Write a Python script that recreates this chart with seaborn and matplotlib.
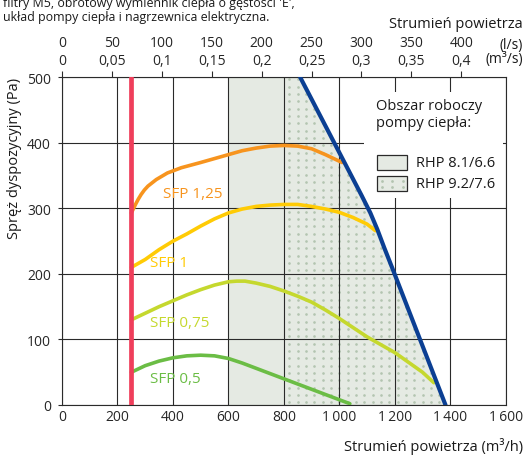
import numpy as np
import pandas as pd
import matplotlib
matplotlib.use("Agg")
import matplotlib.pyplot as plt
from matplotlib.patches import Polygon, Rectangle
from matplotlib.lines import Line2D
import seaborn as sns

# Available pressure (Pa) against airflow (m3/h) for each SFP level
sfp125_x = [250, 257, 265, 275, 285, 297, 310, 325, 340, 360, 380, 405, 430, 465, 500, 550,
            600, 650, 700, 750, 800, 850, 900, 950, 1010]
sfp125_y = [293, 299, 306, 314, 321, 328, 334, 339, 344, 349, 354, 358, 362, 366, 370, 376,
            382, 388, 392, 395, 396, 395, 391, 382, 370]
sfp1_x = [250, 275, 300, 350, 400, 450, 500, 550, 600, 650, 700, 750, 800, 850, 900, 950,
          1000, 1050, 1100, 1130]
sfp1_y = [210, 216, 222, 237, 250, 261, 273, 284, 293, 299, 303, 305, 306, 306, 303, 299,
          294, 286, 276, 266]
sfp075_x = [250, 300, 350, 400, 450, 500, 550, 600, 630, 660, 700, 750, 800, 850, 900, 950,
            1000, 1050, 1100, 1150, 1200, 1250, 1300, 1341]
sfp075_y = [130, 140, 150, 159, 168, 176, 183, 188, 189, 189, 186, 181, 174, 166, 157, 145,
            132, 118, 104, 92, 80, 65, 50, 34]
sfp05_x = [250, 300, 350, 400, 450, 500, 550, 600, 650, 700, 750, 800, 850, 900, 950, 1000, 1038]
sfp05_y = [50, 60, 67, 72, 75, 76, 75, 71, 64, 56, 48, 40, 32, 24, 16, 8, 2]
sfp_names = ["SFP 1,25", "SFP 1", "SFP 0,75", "SFP 0,5"]
sfp_label_pos = [(366, 322), (318, 217), (318, 126), (318, 41)]

# Upper limit of the unit and minimum airflow
limit_x = [859, 1080, 1112, 1137, 1162, 1190, 1383]
limit_y = [500, 320, 293, 268, 240, 210, 0]
min_flow = 250

# Heat pump working ranges (m3/h)
rhp81_range = (600, 800)
rhp92_start = 800

# Axis ticks
flow_ticks = [0, 200, 400, 600, 800, 1000, 1200, 1400, 1600]
flow_labels = ["0", "200", "400", "600", "800", "1\u2009000", "1\u2009200", "1\u2009400", "1\u2009600"]
pressure_ticks = [0, 100, 200, 300, 400, 500]
ls_ticks = [0, 50, 100, 150, 200, 250, 300, 350, 400]
m3s_labels = ["0", "0,05", "0,1", "0,15", "0,2", "0,25", "0,3", "0,35", "0,4"]

colors = {"SFP 1,25": "#f7941e", "SFP 1": "#ffcb05", "SFP 0,75": "#c5d82e", "SFP 0,5": "#6bbd45"}
red = "#ef3e5b"
blue = "#0b3f93"
fill_gray = "#e5eae3"
dot_color = "#b3c4b0"

sns.set_theme(style="white")
plt.rcParams["font.family"] = ["Open Sans", "DejaVu Sans"]
plt.rcParams["text.color"] = "#1a1a1a"

W, H = 525, 456
fig = plt.figure(figsize=(W / 100, H / 100), dpi=100)
ax = fig.add_axes([62 / W, 1 - 406 / H, (505.7 - 62) / W, (406 - 78.3) / H])
ax.set_xlim(0, 1600)
ax.set_ylim(0, 500)

# Working ranges
ax.axvspan(*rhp81_range, color=fill_gray, lw=0, zorder=0.2)
region = [(rhp92_start, 0), (rhp92_start, 500)] + list(zip(limit_x, limit_y))
poly = Polygon(region, closed=True, facecolor=fill_gray, edgecolor="none", zorder=0.2)
ax.add_patch(poly)
gx, gy = np.meshgrid(np.arange(820, 1400, 30), np.arange(4, 500, 11.2))
dots = ax.scatter(gx.ravel(), gy.ravel(), s=3.6, color=dot_color, lw=0, zorder=0.3)
dots.set_clip_path(poly)

# Grid
ax.set_axisbelow(True)
ax.set_xticks(flow_ticks)
ax.set_yticks(pressure_ticks)
ax.grid(True, color="#2a2a2a", lw=0.8)

# White panel behind the legend text
ax.add_patch(Rectangle((1090, 316), 500, 162, facecolor="white", edgecolor="none", zorder=0.8))

# SFP curves
frames = []
for name, xs, ys in zip(sfp_names, [sfp125_x, sfp1_x, sfp075_x, sfp05_x],
                        [sfp125_y, sfp1_y, sfp075_y, sfp05_y]):
    frames.append(pd.DataFrame({"flow": xs, "pressure": ys, "curve": name}))
df = pd.concat(frames, ignore_index=True)
sns.lineplot(data=df, x="flow", y="pressure", hue="curve", palette=colors,
             estimator=None, sort=False, lw=2.6, legend=False, ax=ax, zorder=3)

lim_df = pd.DataFrame({"flow": limit_x, "pressure": limit_y})
sns.lineplot(data=lim_df, x="flow", y="pressure", estimator=None, sort=False,
             color=blue, lw=3.0, ax=ax, zorder=4)
min_df = pd.DataFrame({"flow": [min_flow, min_flow], "pressure": [0, 500]})
sns.lineplot(data=min_df, x="flow", y="pressure", estimator=None, sort=False,
             color=red, lw=3.4, ax=ax, zorder=5)
for ln in ax.lines:
    ln.set_solid_joinstyle("round")

for name, (lx, ly) in zip(sfp_names, sfp_label_pos):
    ax.text(lx, ly, name, color=colors[name], fontsize=11, va="center", ha="left", zorder=6)

# Axes styling
for s in ax.spines.values():
    s.set_color("#2a2a2a")
    s.set_linewidth(0.8)
ax.set_xticklabels(flow_labels)
ax.tick_params(axis="x", bottom=False, length=0, labelsize=10, pad=3)
ax.tick_params(axis="y", left=True, length=3, width=0.8, color="#2a2a2a", labelsize=10, pad=5)
ax.set_xlabel("")
ax.set_ylabel("")

# Upper airflow scale in l/s and m3/s
top = ax.secondary_xaxis("top", functions=(lambda v: v / 3.6, lambda v: v * 3.6))
top.set_xticks(ls_ticks)
top.set_xticklabels([f"{a}\n{b}" for a, b in zip(ls_ticks, m3s_labels)], linespacing=1.25)
top.tick_params(axis="x", direction="out", length=4, width=0.8, color="#2a2a2a", labelsize=10, pad=3)
top.spines["top"].set_visible(False)

fig.text(523 / W, 1 - 45 / H, "(l/s)", ha="right", va="center", fontsize=10)
fig.text(523 / W, 1 - 60 / H, "(m\u00b3/s)", ha="right", va="center", fontsize=10)
fig.text(523 / W, 1 - 25 / H, "Strumień powietrza", ha="right", va="center", fontsize=10.5)
fig.text(523 / W, 1 - 447 / H, "Strumień powietrza (m\u00b3/h)", ha="right", va="center", fontsize=10.5)
fig.text(15 / W, 1 - 78 / H, "Spręż dyspozycyjny (Pa)", rotation=90, ha="center", va="top", fontsize=10.5)

fig.text(3 / W, 1 - 4 / H, "filtry M5, obrotowy wymiennik ciepła o gęstości 'E',", ha="left", va="center", fontsize=8.9)
fig.text(3 / W, 1 - 18 / H, "układ pompy ciepła i nagrzewnica elektryczna.", ha="left", va="center", fontsize=8.9)

# Legend for the heat pump working ranges
fig.text(376 / W, 1 - 115 / H, "Obszar roboczy\npompy ciepła:", ha="left", va="center",
         fontsize=10.5, linespacing=1.2)
for (y0, label, dotted) in [(156, "RHP 8.1/6.6", False), (177, "RHP 9.2/7.6", True)]:
    fig.patches.append(Rectangle((376.5 / W, 1 - (y0 + 15) / H), 30 / W, 15 / H,
                                 transform=fig.transFigure, facecolor=fill_gray,
                                 edgecolor="#2a2a2a", lw=0.9, zorder=5))
    if dotted:
        sx, sy = np.meshgrid(np.array([381.5, 392, 402.5]), np.array([y0 + 4.5, y0 + 11]))
        fig.add_artist(Line2D(sx.ravel() / W, 1 - sy.ravel() / H, transform=fig.transFigure,
                              marker="o", ls="none", ms=2.0, mew=0, color=dot_color, zorder=6))
    fig.text(416.5 / W, 1 - (y0 + 7.5) / H, label, ha="left", va="center", fontsize=10.5)

fig.savefig("out.png", dpi=100)
